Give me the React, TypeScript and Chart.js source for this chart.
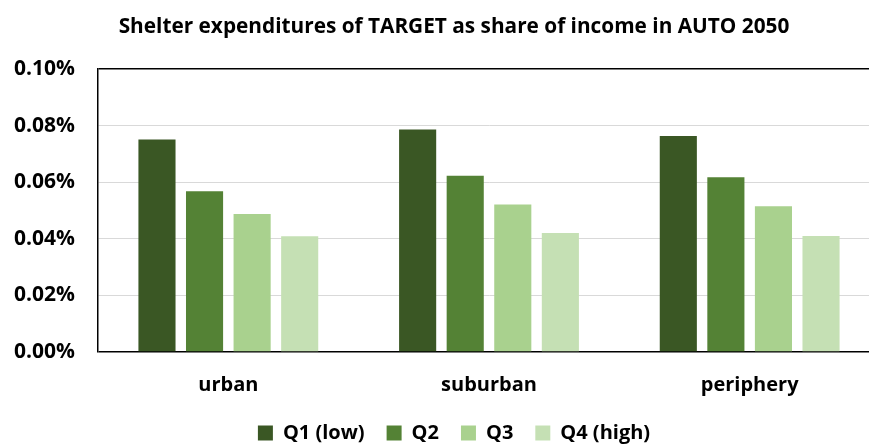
import React, { useEffect, useRef } from "react";
import { Chart, registerables } from "chart.js";

Chart.register(...registerables);

const categories = ["urban", "suburban", "periphery"];
const seriesNames = ["Q1 (low)", "Q2", "Q3", "Q4 (high)"];
const q1Values = [0.0751, 0.0786, 0.0763];
const q2Values = [0.0568, 0.0623, 0.0617];
const q3Values = [0.0488, 0.0521, 0.0515];
const q4Values = [0.0409, 0.042, 0.041];
const seriesColors = ["#3a5724", "#548235", "#a9d18e", "#c5e0b4"];
const titleText = "Shelter expenditures of TARGET as share of income in AUTO 2050";

const FONT = "'Open Sans', Lato, sans-serif";

export default function App() {
  const canvasRef = useRef<HTMLCanvasElement | null>(null);

  useEffect(() => {
    if (!canvasRef.current) return;
    const seriesValues = [q1Values, q2Values, q3Values, q4Values];
    const isEdge = (v: number) => Math.abs(v - 0.1) < 1e-9 || Math.abs(v) < 1e-9;
    const chart = new Chart(canvasRef.current, {
      type: "bar",
      data: {
        labels: categories,
        datasets: seriesNames.map((name, i) => ({
          label: name,
          data: seriesValues[i],
          backgroundColor: seriesColors[i],
          borderWidth: 0,
          categoryPercentage: 0.73,
          barPercentage: 0.78,
        })),
      },
      options: {
        animation: false,
        responsive: true,
        maintainAspectRatio: false,
        layout: { padding: { left: 0, right: 0, top: 0, bottom: -7 } },
        plugins: {
          title: {
            display: true,
            text: titleText,
            color: "#000",
            font: { family: FONT, size: 20.8, weight: "bold" },
            padding: { top: 15, bottom: 29 },
          },
          legend: {
            position: "bottom",
            labels: {
              color: "#000",
              boxWidth: 15,
              boxHeight: 15,
              padding: 22,
              font: { family: FONT, size: 20, weight: "bold" },
            },
          },
          tooltip: { enabled: false },
        },
        scales: {
          x: {
            grid: { display: false, drawTicks: false },
            border: { display: false },
            ticks: {
              color: "#000",
              padding: 21,
              font: { family: FONT, size: 20, weight: "bold" },
            },
            afterFit: (scale: any) => {
              const lh = scale.chart.legend ? scale.chart.legend.height : 40;
              scale.height = 446 - 352 - lh + 7;
            },
          },
          y: {
            min: 0,
            max: 0.1,
            ticks: {
              stepSize: 0.02,
              color: "#000",
              padding: 23,
              font: { family: FONT, size: 21, weight: "bold" },
              callback: (v: any) => Number(v).toFixed(2) + "%",
            },
            grid: {
              drawTicks: false,
              color: (ctx: any) => (isEdge(ctx.tick.value) ? "#000" : "#d9d9d9"),
              lineWidth: (ctx: any) => (isEdge(ctx.tick.value) ? 1.5 : 1),
            },
            border: { display: true, color: "#000", width: 1.5 },
            afterFit: (scale: any) => {
              scale.width = 98;
            },
          },
          yRight: {
            position: "right",
            display: true,
            min: 0,
            max: 0.1,
            grid: { display: false, drawTicks: false },
            border: { display: false },
            ticks: { display: false },
            afterFit: (scale: any) => {
              scale.width = 28;
            },
          },
        },
      },
    });
    return () => chart.destroy();
  }, []);

  return (
    <div
      style={{
        position: "fixed",
        left: 0,
        top: 0,
        width: 869,
        height: 446,
        overflow: "hidden",
        background: "#fff",
      }}
    >
      <div style={{ position: "relative", width: 908, height: 446 }}>
        <canvas ref={canvasRef} />
      </div>
    </div>
  );
}
